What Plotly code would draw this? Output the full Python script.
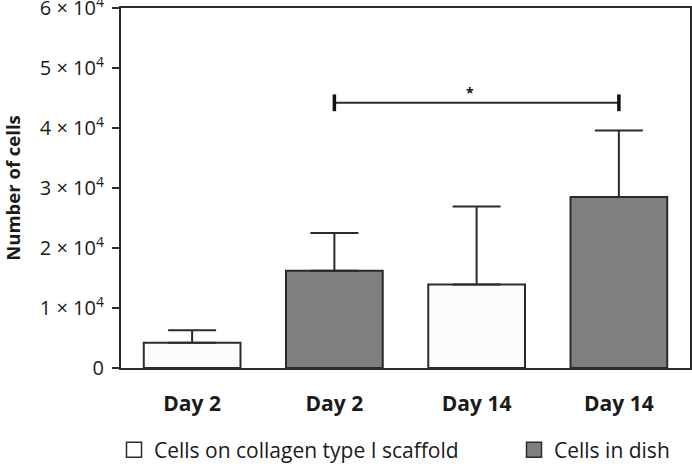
import plotly.graph_objects as go

# Data
categories = ["Day 2", "Day 2", "Day 14", "Day 14"]
positions = [0, 1, 2, 3]
scaffold_pos = [0, 2]
scaffold_vals = [4200, 13900]
scaffold_err = [2100, 13000]
dish_pos = [1, 3]
dish_vals = [16200, 28500]
dish_err = [6300, 11100]
ytick_vals = [0, 10000, 20000, 30000, 40000, 50000, 60000]
ytick_text = ["0", "1 × 10<sup>4</sup>", "2 × 10<sup>4</sup>", "3 × 10<sup>4</sup>",
              "4 × 10<sup>4</sup>", "5 × 10<sup>4</sup>", "6 × 10<sup>4</sup>"]
bracket_from = 1
bracket_to = 3
bracket_y = 44200
star_y = 46000

FONT = "Open Sans"
DARK = "#2b2b2b"
GRAY = "#7f7f7f"
WHITE = "#fcfcfc"
TXT = "#1a1a1a"
BAR_W = 0.68

fig = go.Figure()
fig.add_trace(go.Bar(
    x=scaffold_pos, y=scaffold_vals, width=BAR_W,
    marker=dict(color=WHITE, line=dict(color=DARK, width=2)),
    error_y=dict(type="data", array=scaffold_err, arrayminus=[0] * len(scaffold_err),
                 symmetric=False, color=DARK, thickness=2, width=24),
    showlegend=False, name="Cells on collagen type I scaffold",
))
fig.add_trace(go.Bar(
    x=dish_pos, y=dish_vals, width=BAR_W,
    marker=dict(color=GRAY, line=dict(color=DARK, width=2)),
    error_y=dict(type="data", array=dish_err, arrayminus=[0] * len(dish_err),
                 symmetric=False, color=DARK, thickness=2, width=24),
    showlegend=False, name="Cells in dish",
))
# legend entries
fig.add_trace(go.Scatter(
    x=[None], y=[None], mode="markers", name="Cells on collagen type I scaffold",
    legendwidth=355,
    marker=dict(symbol="square", size=15, color="white", line=dict(color=DARK, width=1.5)),
))
fig.add_trace(go.Scatter(
    x=[None], y=[None], mode="markers", name="Cells in dish",
    legendwidth=118,
    marker=dict(symbol="square", size=15, color=GRAY, line=dict(color=DARK, width=1.5)),
))

# significance bracket
fig.add_shape(type="line", x0=bracket_from, x1=bracket_to, y0=bracket_y, y1=bracket_y,
              line=dict(color=DARK, width=2))
for bx in (bracket_from, bracket_to):
    fig.add_shape(type="line", x0=bx, x1=bx, y0=bracket_y - 1400, y1=bracket_y + 1400,
                  line=dict(color="#111", width=3.5))
fig.add_annotation(x=(bracket_from + bracket_to) / 2 - 0.05, y=star_y, text="<b>*</b>",
                   showarrow=False, font=dict(size=14, color="#111", family=FONT))

fig.update_layout(
    width=692, height=464,
    margin=dict(l=121, r=2, t=8, b=96),
    plot_bgcolor="white", paper_bgcolor="white",
    barmode="overlay",
    font=dict(family=FONT, color=TXT),
    showlegend=True,
    legend=dict(orientation="h", xref="container", yref="container",
                x=114 / 692, xanchor="left", y=1 - 450 / 464, yanchor="middle",
                font=dict(size=21, family=FONT, color=TXT),
                itemwidth=30, bgcolor="rgba(0,0,0,0)"),
)
fig.update_xaxes(
    range=[-0.5, 3.5], tickmode="array", tickvals=positions,
    ticktext=["<b>%s</b>" % c for c in categories],
    tickfont=dict(size=21, family=FONT, color=TXT),
    showline=True, linecolor=DARK, linewidth=2, mirror=True,
    ticks="", ticklabelstandoff=16, showgrid=False, zeroline=False, automargin=False,
)
fig.update_yaxes(
    range=[0, 60000], tickmode="array", tickvals=ytick_vals, ticktext=ytick_text,
    tickfont=dict(size=20, family=FONT, color=TXT),
    showline=True, linecolor=DARK, linewidth=2, mirror=True,
    ticks="outside", ticklen=7, tickwidth=2, tickcolor=DARK, ticklabelstandoff=4,
    ticklabeloverflow="allow",
    showgrid=False, zeroline=False, automargin=False,
    title=dict(text="<b>Number of cells</b>", font=dict(size=18.5, family=FONT, color=TXT),
               standoff=24),
)

fig.write_html("out.html", config={"displayModeBar": False},
               post_script="document.body.style.margin='0';")
